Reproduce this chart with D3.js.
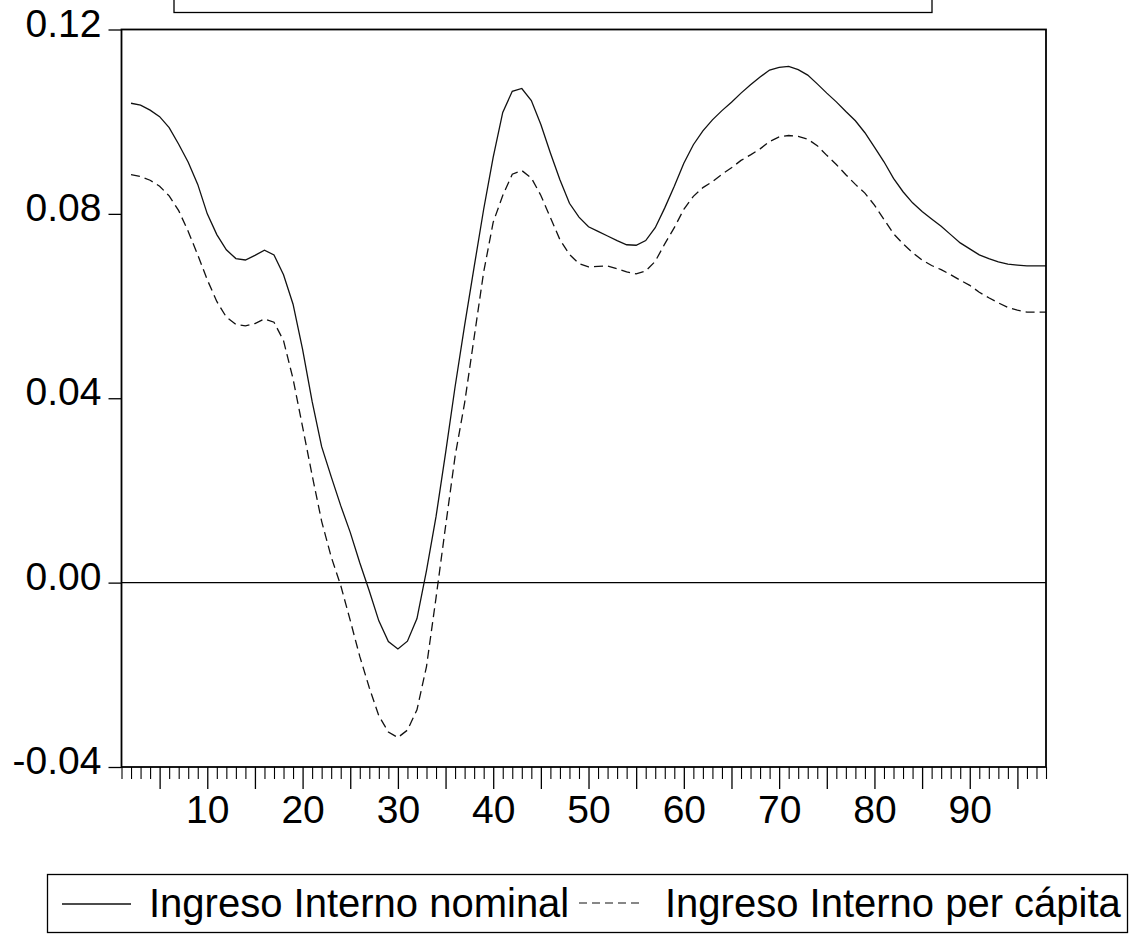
<!DOCTYPE html>
<html>
<head>
<meta charset="utf-8">
<script src="https://cdn.jsdelivr.net/npm/d3@7"></script>
<style>
  html, body { margin: 0; padding: 0; background: #fff; }
  svg { display: block; font-family: "Liberation Sans", Arial, sans-serif; }
</style>
</head>
<body>
<svg id="chart" width="1135" height="934"></svg>
<script>
// ---- data ----
const obsStart = 2;
const nominal = [
  0.1040, 0.1036, 0.1025, 0.1011, 0.0987, 0.0951, 0.0912, 0.0864, 0.0800, 0.0755,
  0.0722, 0.0703, 0.0700, 0.0710, 0.0721, 0.0711, 0.0668, 0.0604, 0.0506, 0.0393,
  0.0295, 0.0230, 0.0167, 0.0109, 0.0043, -0.0018, -0.0083, -0.0128, -0.0144, -0.0127,
  -0.0078, 0.0026, 0.0143, 0.0281, 0.0425, 0.0558, 0.0685, 0.0810, 0.0923, 0.1020,
  0.1066, 0.1072, 0.1046, 0.0994, 0.0932, 0.0874, 0.0823, 0.0793, 0.0772, 0.0762,
  0.0752, 0.0742, 0.0733, 0.0732, 0.0742, 0.0770, 0.0813, 0.0860, 0.0910, 0.0950,
  0.0980, 0.1004, 0.1024, 0.1042, 0.1062, 0.1080, 0.1097, 0.1112, 0.1118, 0.1120,
  0.1113, 0.1101, 0.1082, 0.1062, 0.1043, 0.1022, 0.1002, 0.0976, 0.0945, 0.0913,
  0.0877, 0.0848, 0.0824, 0.0805, 0.0789, 0.0773, 0.0755, 0.0737, 0.0724, 0.0711,
  0.0703, 0.0696, 0.0691, 0.0689, 0.0687, 0.0687, 0.0687
];
const perCapita = [
  0.0885, 0.0881, 0.0873, 0.0860, 0.0839, 0.0807, 0.0762, 0.0711, 0.0657, 0.0610,
  0.0576, 0.0560, 0.0557, 0.0562, 0.0572, 0.0565, 0.0525, 0.0442, 0.0338, 0.0233,
  0.0133, 0.0056, -0.0006, -0.0082, -0.0160, -0.0228, -0.0289, -0.0324, -0.0336, -0.0320,
  -0.0276, -0.0182, -0.0033, 0.0122, 0.0274, 0.0390, 0.0532, 0.0674, 0.0782, 0.0840,
  0.0886, 0.0894, 0.0878, 0.0840, 0.0792, 0.0744, 0.0712, 0.0692, 0.0685, 0.0686,
  0.0687, 0.0681, 0.0674, 0.0670, 0.0676, 0.0697, 0.0735, 0.0770, 0.0810, 0.0838,
  0.0857, 0.0870, 0.0886, 0.0900, 0.0916, 0.0928, 0.0941, 0.0957, 0.0967, 0.0970,
  0.0968, 0.0962, 0.0948, 0.0927, 0.0907, 0.0885, 0.0864, 0.0845, 0.0819, 0.0788,
  0.0757, 0.0735, 0.0716, 0.0700, 0.0688, 0.0679, 0.0668, 0.0656, 0.0645, 0.0630,
  0.0618, 0.0607, 0.0597, 0.0591, 0.0587, 0.0587, 0.0587
];
const yTicks = [0.12, 0.08, 0.04, 0.00, -0.04];
const xLabels = [10, 20, 30, 40, 50, 60, 70, 80, 90];
const xDomain = [1, 98];
const seriesNames = ["Ingreso Interno nominal", "Ingreso Interno per cápita"];

// ---- layout ----
const plotL = 121.5, plotR = 1046, plotT = 29.5, plotB = 767;
const svg = d3.select("#chart");

const x = d3.scaleLinear().domain(xDomain).range([plotL, plotR]);
const y = d3.scaleLinear().domain([-0.04, 0.12]).range([plotB, plotT]);

// top empty box (cut off)
svg.append("rect")
  .attr("x", 174).attr("y", -40).attr("width", 758).attr("height", 52.5)
  .attr("fill", "none").attr("stroke", "#000").attr("stroke-width", 1.3);

// zero line
svg.append("line")
  .attr("x1", plotL).attr("x2", plotR).attr("y1", y(0)).attr("y2", y(0))
  .attr("stroke", "#000").attr("stroke-width", 1.3);

// lines
const toPts = arr => arr.map((v, i) => [obsStart + i, v]);
const line = d3.line().x(d => x(d[0])).y(d => y(d[1]));
svg.append("path").datum(toPts(nominal))
  .attr("d", line).attr("fill", "none").attr("stroke", "#111").attr("stroke-width", 1.3);
svg.append("path").datum(toPts(perCapita))
  .attr("d", line).attr("fill", "none").attr("stroke", "#111").attr("stroke-width", 1.3)
  .attr("stroke-dasharray", "9,5");

// frame
svg.append("rect")
  .attr("x", plotL).attr("y", plotT).attr("width", plotR - plotL).attr("height", plotB - plotT)
  .attr("fill", "none").attr("stroke", "#000").attr("stroke-width", 1.8);

// y axis
const fmtY = d => d3.format(".2f")(d).replace("\u2212", "-");
const yAxis = d3.axisLeft(y).tickValues(yTicks).tickSize(13).tickPadding(7)
  .tickFormat(fmtY);
const gy = svg.append("g").attr("transform", `translate(${plotL},0)`).call(yAxis);
gy.select(".domain").remove();
gy.selectAll(".tick line").attr("stroke", "#000").attr("stroke-width", 1.3);
gy.selectAll(".tick text")
  .attr("font-size", 39).attr("fill", "#000")
  .attr("font-family", "'Liberation Sans', Arial, sans-serif")
  .attr("dy", "0.17em").attr("x", -20);

// x axis minor ticks
const allTicks = d3.range(xDomain[0], xDomain[1] + 1);
const gxMinor = svg.append("g").attr("transform", `translate(0,${plotB})`)
  .call(d3.axisBottom(x).tickValues(allTicks.filter(v => v % 5 !== 0)).tickSize(12).tickFormat(""));
gxMinor.select(".domain").remove();
gxMinor.selectAll(".tick line").attr("stroke", "#000").attr("stroke-width", 1.1);

const gxMajor = svg.append("g").attr("transform", `translate(0,${plotB})`)
  .call(d3.axisBottom(x).tickValues(allTicks.filter(v => v % 5 === 0)).tickSize(22).tickFormat(""));
gxMajor.select(".domain").remove();
gxMajor.selectAll(".tick line").attr("stroke", "#000").attr("stroke-width", 1.3);

const gxLab = svg.append("g").attr("transform", `translate(0,${plotB})`)
  .call(d3.axisBottom(x).tickValues(xLabels).tickSize(0).tickPadding(28).tickFormat(d3.format("d")));
gxLab.select(".domain").remove();
gxLab.selectAll(".tick text")
  .attr("font-size", 39).attr("fill", "#000")
  .attr("font-family", "'Liberation Sans', Arial, sans-serif");

// legend
const lg = svg.append("g");
lg.append("rect").attr("x", 47.5).attr("y", 874.5).attr("width", 1080).attr("height", 58)
  .attr("fill", "none").attr("stroke", "#000").attr("stroke-width", 1.3);
lg.append("line").attr("x1", 62).attr("x2", 131).attr("y1", 904).attr("y2", 904)
  .attr("stroke", "#111").attr("stroke-width", 1.3);
lg.append("text").attr("x", 149).attr("y", 917).attr("font-size", 40).attr("fill", "#000")
  .text(seriesNames[0]);
lg.append("line").attr("x1", 579).attr("x2", 643).attr("y1", 903).attr("y2", 903)
  .attr("stroke", "#111").attr("stroke-width", 1.2).attr("stroke-dasharray", "8,5");
lg.append("text").attr("x", 665).attr("y", 917).attr("font-size", 40).attr("fill", "#000")
  .text(seriesNames[1]);
</script>
</body>
</html>
